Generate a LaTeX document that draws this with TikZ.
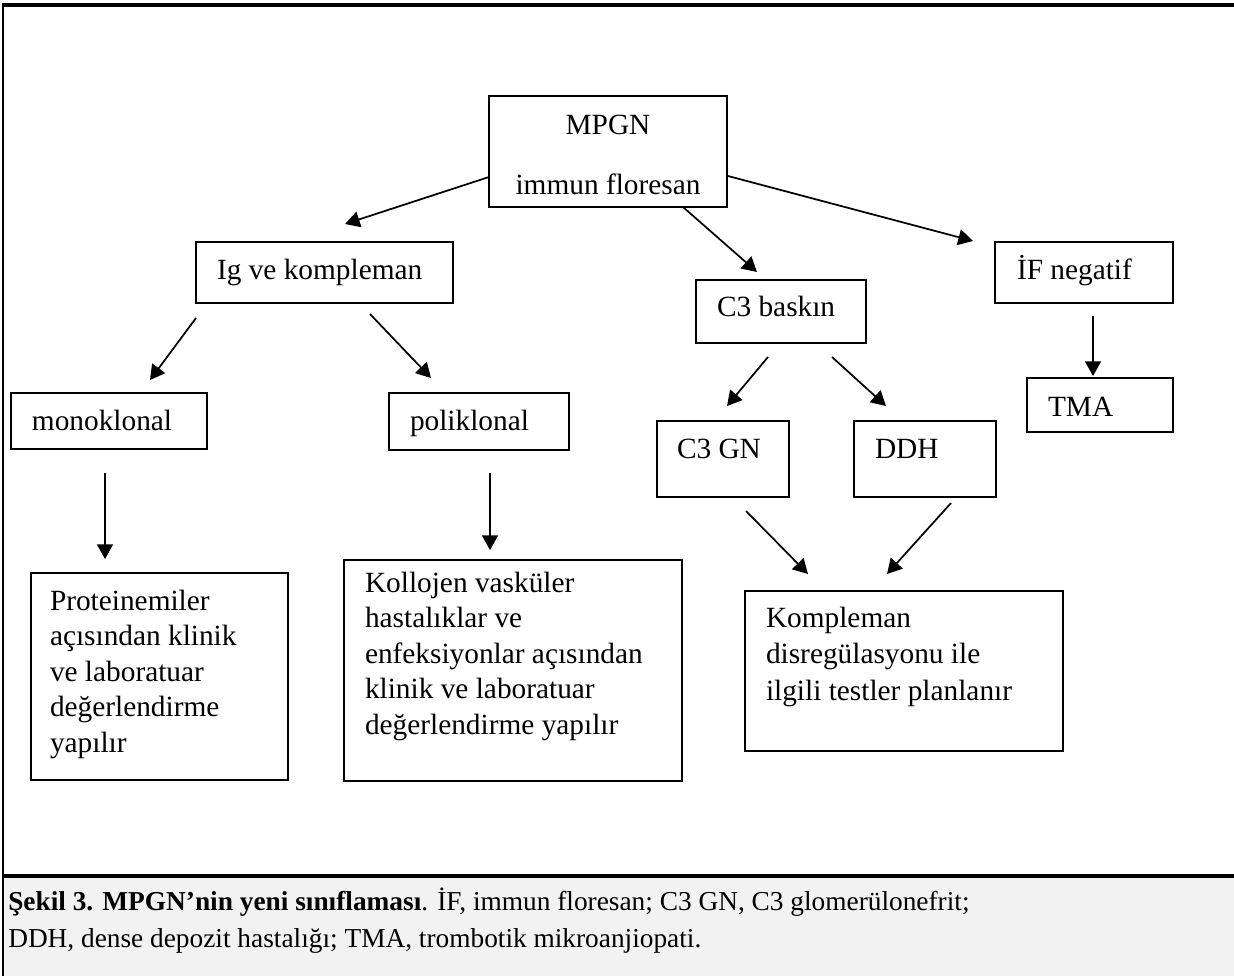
\documentclass[tikz,border=0pt]{standalone}
\usepackage{fontspec}
\setmainfont{Liberation Serif}
\usetikzlibrary{arrows.meta,calc}
\definecolor{capbg}{HTML}{F2F2F2}
\newdimen\pxu \pxu=0.75pt
% left-aligned box content: width, height, left pad, first baseline, line spacing, text
\newcommand\bxl[6]{\vbox to #2\pxu{\hsize=#1\pxu\parindent=0pt\parskip=0pt\leftskip=#3\pxu\rightskip=0pt plus 1fil\parfillskip=0pt plus 1fil\baselineskip=#5\pxu\lineskiplimit=-100pt\prevdepth=0pt\vskip\dimexpr#4\pxu-\baselineskip\relax\relax #6\par\vss}}
% centred box content: width, height, first baseline, line spacing, text
\newcommand\bxc[5]{\vbox to #2\pxu{\hsize=#1\pxu\parindent=0pt\parskip=0pt\leftskip=0pt plus 1fil\rightskip=0pt plus 1fil\parfillskip=0pt\baselineskip=#4\pxu\lineskiplimit=-100pt\prevdepth=0pt\vskip\dimexpr#3\pxu-\baselineskip\relax\relax #5\par\vss}}
\begin{document}
\begin{tikzpicture}[x=0.75pt,y=-0.75pt,
  box/.style={draw, line width=1.3pt, inner sep=0pt, outer sep=0pt, anchor=north west, font=\fontsize{22}{26}\selectfont},
  arr/.style={-{Triangle[length=11pt,width=12pt]}, line width=1.3pt},
  frame/.style={line width=3pt}]
\useasboundingbox (0,0) rectangle (1234,976);
% caption background and frame
\fill[capbg] (4,877) rectangle (1234,976);
\draw[line width=1.6pt] (3,4) -- (3,976);
\draw[frame] (2,5) -- (1234,5);
\draw[frame] (2,876) -- (1234,876);
% boxes
\node[box] (mpgn) at (489,96)  {\bxc{238}{111}{38}{60}{MPGN\par immun floresan}};
\node[box] (ig)   at (196,242) {\bxl{257}{61}{21}{37}{35.5}{Ig ve kompleman}};
\node[box] (c3b)  at (696,280) {\bxl{170}{63}{21}{36}{35.5}{C3 baskın}};
\node[box] (ifn)  at (995,242) {\bxl{178}{61}{22}{37}{35.5}{İF negatif}};
\node[box] (mono) at (11,393)  {\bxl{196}{56}{21}{37}{35.5}{monoklonal}};
\node[box] (poli) at (389,393) {\bxl{180}{57}{21}{37}{35.5}{poliklonal}};
\node[box] (tma)  at (1027,378){\bxl{146}{54}{21}{38}{35.5}{TMA}};
\node[box] (c3gn) at (657,421) {\bxl{132}{76}{20}{37}{35.5}{C3 GN}};
\node[box] (ddh)  at (854,421) {\bxl{142}{76}{21}{37}{35.5}{DDH}};
\node[box] (prot) at (31,573)  {\bxl{257}{207}{19}{37}{35.5}{Proteinemiler\par açısından klinik\par ve laboratuar\par değerlendirme\par yapılır}};
\node[box] (koll) at (344,560) {\bxl{338}{221}{21}{32}{35.5}{Kollojen vasküler\par hastalıklar ve\par enfeksiyonlar açısından\par klinik ve laboratuar\par değerlendirme yapılır}};
\node[box] (komp) at (745,591) {\bxl{318}{160}{21}{36}{36.5}{Kompleman\par disregülasyonu ile\par ilgili testler planlanır}};
% caption
\node[anchor=north west, inner sep=0pt, font=\fontsize{20.5}{24}\selectfont] (cap) at (0,878)
  {\bxl{1230}{95}{8}{32}{37}{\textbf{Şekil 3. MPGN’nin yeni sınıflaması}. İF, immun floresan; C3 GN, C3 glomerülonefrit;\par DDH, dense depozit hastalığı; TMA, trombotik mikroanjiopati.}};
% connectors
\draw[arr] ($(mpgn.south west)+(0,-30)$) -- ($(ig.north)+(20.5,-18)$);
\draw[arr] ($(mpgn.south)+(75,0)$) -- ($(c3b.north)+(-24,-8)$);
\draw[arr] ($(mpgn.south east)+(1,-31)$) -- ($(ifn.north west)+(-22,-1)$);
\draw[arr] ($(ig.south west)+(0,15)$) -- ($(mono.north)+(41,-13)$);
\draw[arr] ($(ig.south)+(45.5,11)$) -- ($(poli.north)+(-48,-15)$);
\draw[arr] ($(c3b.south)+(-13,14)$) -- ($(c3gn.north)+(4,-15)$);
\draw[arr] ($(c3b.south)+(51,14)$) -- ($(ddh.north)+(-39,-15)$);
\draw[arr] ($(ifn.south)+(9,13)$) -- ($(tma.north)+(-7,-2)$);
\draw[arr] ($(mono.south)+(-4,24)$) -- ($(prot.north)+(-54.5,-14)$);
\draw[arr] ($(poli.south)+(11,23)$) -- ($(koll.north)+(-23,-10)$);
\draw[arr] ($(c3gn.south)+(23,14)$) -- ($(komp.north)+(-96,-17)$);
\draw[arr] ($(ddh.south)+(26,6)$) -- ($(komp.north)+(-17,-17)$);
\end{tikzpicture}
\end{document}
